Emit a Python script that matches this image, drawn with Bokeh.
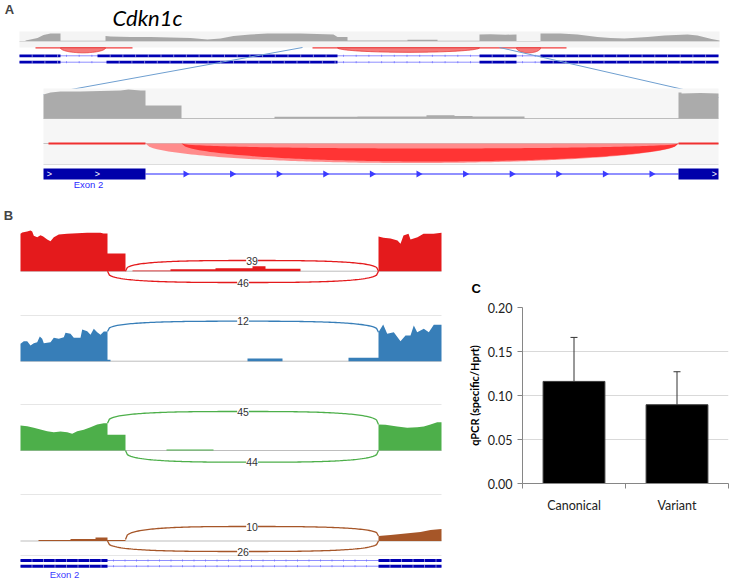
import numpy as np
from bokeh.plotting import figure
from bokeh.models import (Range1d, Label, LabelSet, ColumnDataSource, FixedTicker,
                          Whisker, TeeHead, NumeralTickFormatter, Title)
from bokeh.layouts import column, row
from bokeh.embed import file_html
from bokeh.resources import INLINE
from bokeh.core.properties import value

# ======================= DATA =======================
# ---- Panel A: overview of the Cdkn1c locus (track position, relative read depth)
ov_pos = [25, 30, 37, 43, 50, 58, 60, 60, 105,
          105, 110, 130, 150, 170, 190, 207, 220, 233, 250, 267, 300, 333, 337, 347,
          347, 407, 407, 437, 437, 479,
          479, 490, 505, 516, 516, 540,
          540, 560, 577, 597, 610, 624, 647, 664, 687, 697, 711, 719]
ov_depth = [0.5, 1.5, 3, 6, 7.5, 7.5, 7.5, 0.3, 0.3,
            5, 4.5, 4, 4, 3.5, 3, 1.5, 2.5, 5, 6.5, 7.5, 7.5, 6.5, 4, 4,
            0.5, 0.5, 1.2, 1.2, 0.3, 0.3,
            6.5, 6.8, 6.3, 6.5, 0, 0,
            7.5, 7.5, 6.5, 4, 3, 2.5, 4, 5.5, 6.5, 5.5, 2, 0.5]
ov_junc_start = [60, 337, 516]
ov_junc_end = [105, 479, 540]
ov_junc_depth = [5.0, 4.5, 5.0]
ov_jline_start = [35, 312]
ov_jline_end = [132, 566]
tx1_start = [19, 97, 479, 540]
tx1_end = [60, 337, 516, 718]
tx2_start = [19, 106, 479, 540]
tx2_end = [60, 337, 516, 718]
zoom_from = [302, 499]

# ---- Panel A: zoomed exon 2 / intron region
zm_pos = [43, 50, 60, 80, 100, 120, 128, 140, 145,
          145, 181, 181, 274, 274, 357, 357, 426, 426, 454, 454, 472, 472, 524, 524, 678,
          678, 681, 681, 700, 718]
zm_depth = [24, 26, 27, 27, 27.5, 28, 29, 28, 28,
            13, 13, 0, 0, 1.7, 1.7, 2, 2, 3.3, 3.3, 2.5, 2.5, 2, 2, 0, 0,
            26, 26, 25, 25.5, 25]
zm_junc_start = [145, 181]
zm_junc_end = [678, 678]
zm_exon_start = [43, 678]
zm_exon_end = [145, 718]

# ---- Panel B: sashimi coverage of four samples
red_pos = [20, 21.7, 26.7, 30, 31.7, 33.3, 36.7, 40, 42.7, 46.7, 50, 53.3, 58.3, 66.7, 76.7, 86.7, 100, 103, 107,
           107, 125, 125, 132, 132, 170, 170, 215, 215, 252, 252, 265, 265, 300, 300, 378,
           378, 383, 390, 397, 400, 403, 408, 410, 417, 423, 433, 441]
red_depth = [37.4, 38.7, 39.7, 40.7, 39.7, 35.4, 34, 36, 34.7, 31.7, 30, 34, 36.7, 37.4, 38, 38.4, 38.4, 37.7, 37.7,
             17.7, 17.7, 0, 0, 0.7, 0.7, 2, 2, 3, 3, 5, 5, 2.5, 2.5, 0, 0,
             34.7, 33.4, 32.7, 30.7, 27.4, 35.7, 37.4, 31.7, 34, 37.4, 37.4, 38.4]
blue_pos = [20, 23.3, 26.7, 30, 33.3, 36.7, 39.3, 41.7, 43.3, 50, 53.3, 58.3, 63.3, 65, 70, 73.3, 80, 81.7,
            86.7, 90, 93.3, 96.7, 100, 103.3, 107,
            107, 110, 110, 247, 247, 282, 282, 348, 348, 378,
            378, 382.7, 386.7, 393.3, 400, 405, 410, 413.3, 416.7, 423.3, 428.3, 433.3, 441]
blue_depth = [17.4, 20, 20, 15.7, 18, 19, 24.7, 22.4, 18, 19, 23.4, 22.4, 24, 28.4, 27.4, 23.4, 23.4, 31.7,
              30, 26.4, 32.4, 29, 26.4, 29.7, 29.7,
              1.5, 1.5, 0, 0, 2.7, 2.7, 0, 0, 3.4, 3.4,
              29, 36.7, 27.4, 29, 20, 25.7, 25.7, 35.7, 29, 32.4, 29, 36.4, 36.4]
green_pos = [20, 26.7, 33.3, 40, 46.7, 53.3, 60, 66.7, 71.7, 76.7, 83.3, 90, 96.7, 103.3, 107,
             107, 125, 125, 166, 166, 213, 213, 378,
             378, 385, 396.7, 406.7, 416.7, 423.3, 430, 436.7, 441]
green_depth = [25, 24.3, 22.7, 21, 19.3, 18.3, 19, 18.3, 16.7, 19.3, 20.7, 23.3, 26, 27.3, 27.3,
               15.7, 15.7, 0, 0, 1, 1, 0, 0,
               26, 25.7, 24, 22.7, 23.3, 24, 26, 28.3, 28.3]
brown_pos = [20, 38, 38, 70, 70, 95, 95, 107, 107, 125, 125, 378,
             378, 390, 400, 410, 420, 430, 441]
brown_depth = [0, 0, 1, 1, 2, 2, 3.5, 3.5, 1, 1, 0, 0,
               5, 6, 7, 8, 9, 11, 12]

junc_sample = [0, 0, 1, 2, 2, 3, 3]
junc_start = [125, 107, 107, 107, 125, 125, 107]
junc_end = [378, 378, 378, 378, 378, 378, 378]
junc_reads = [39, 46, 12, 45, 44, 10, 26]
junc_above = [True, False, True, True, False, True, False]
junc_anchor0 = [0, 0, 29.7, 27.3, 0, 1.5, 0]
junc_anchor1 = [0, 0, 29.0, 26.0, 0, 5.0, 0]
b_exon_start = [20, 378]
b_exon_end = [107, 441]

# ---- Panel C: qPCR
qpcr_cat = ["Canonical", "Variant"]
qpcr_mean = [0.116, 0.0895]
qpcr_err = [0.050, 0.0375]

# ======================= STYLE / LAYOUT =======================
SAMPLE_COLORS = ["#e41a1c", "#377eb8", "#4daf4a", "#a65628"]
ARC_HEIGHT = [10.7, 11.3, 40.0, 39.0, 11.7, 14.5, 10.5]
GENE_DARK = "#0000b4"
GENE_LIGHT = "#8f8fff"


def superellipse(n, num=140):
    f = np.linspace(0, 1, num)
    s = np.clip(1 - np.abs(2 * f - 1) ** n, 0, 1) ** (1.0 / n)
    return f, s


def blank(p):
    p.grid.visible = False
    p.outline_line_color = None
    p.background_fill_color = "white"
    p.border_fill_color = "white"
    p.frame_align = False


def gene_row(p, y, starts, ends, half=1.4, step=12.7):
    p.segment(x0=starts[0], x1=ends[-1], y0=y, y1=y, line_color=GENE_LIGHT, line_width=1)
    tx = []
    for e, s in zip(ends[:-1], starts[1:]):
        for t in np.arange(e + 6, s - 3, step):
            tx.append(t)
    if tx:
        p.segment(x0=tx, x1=tx, y0=y - 1.0, y1=y + 1.0, line_color="#7070ff", line_width=0.8)
    p.quad(left=starts, right=ends, top=y - half, bottom=y + half, fill_color=GENE_DARK, line_color=None)
    wx = []
    for s, e in zip(starts, ends):
        wx.extend(list(np.arange(s + step, e - 2, step)))
    if wx:
        p.segment(x0=wx, x1=wx, y0=y - half, y1=y + half, line_color="white", line_alpha=0.6, line_width=0.8)


# ======================= PANEL A =======================
pA = figure(width=729, height=200, x_range=Range1d(0, 729), y_range=Range1d(200, 0),
            toolbar_location=None, output_backend="svg", min_border=0, title=None,
            x_axis_location=None, y_axis_location=None)
blank(pA)

OV_X0, OV_X1, OV_BASE, OV_JY = 19, 719, 40.5, 47.3
pA.quad(left=OV_X0, right=OV_X1, top=31, bottom=47, fill_color="#f4f4f4", line_color=None)
pA.segment(x0=OV_X0, x1=OV_X1, y0=41, y1=41, line_color="#d9d9d9", line_width=1)
pA.varea(x=ov_pos, y1=np.full(len(ov_pos), OV_BASE), y2=OV_BASE - np.array(ov_depth),
         fill_color="#a8a8a8")

f2, s2 = superellipse(2)
pA.segment(x0=ov_jline_start, x1=ov_jline_end, y0=OV_JY, y1=OV_JY, line_color="#f03c3c", line_width=1.3)
axs, ays = [], []
for a, b, d in zip(ov_junc_start, ov_junc_end, ov_junc_depth):
    axs.append(list(a + (b - a) * f2))
    ays.append(list(OV_JY + d * s2))
pA.patches(axs, ays, fill_color="#f47a7a", line_color="#e63232", line_width=0.8)

gene_row(pA, 55.3, tx1_start, tx1_end)
gene_row(pA, 61.7, tx2_start, tx2_end)

# zoom connector lines
ZM_X0, ZM_X1 = 43, 718
pA.segment(x0=zoom_from, y0=[47, 47], x1=[ZM_X0, ZM_X1], y1=[94, 97],
           line_color="#6f9fd0", line_width=1)

# zoom detail tracks
ZM_BASE, ZM_JY, ZM_GY = 118, 143, 173.5
pA.quad(left=ZM_X0, right=ZM_X1, top=88, bottom=164, fill_color="#f6f6f6", line_color=None)
pA.segment(x0=[ZM_X0] * 3, x1=[ZM_X1] * 3, y0=[118, 143, 164], y1=[118, 143, 164],
           line_color=["#bdbdbd", "#c4c4c4", "#dddddd"], line_width=1)
pA.varea(x=zm_pos, y1=np.full(len(zm_pos), ZM_BASE), y2=ZM_BASE - np.array(zm_depth),
         fill_color="#ababab")

pA.segment(x0=[48, 678], x1=[145, 718], y0=ZM_JY, y1=ZM_JY, line_color="#f03030", line_width=1.8)
a, b = zm_junc_start[0], zm_junc_end[0]
lx = a + (b - a) * f2
pA.patch(list(lx), list(ZM_JY + 19.5 * s2), fill_color="#ff8c8c", line_color=None)
a, b = zm_junc_start[1], zm_junc_end[1]
dx = a + (b - a) * f2
lower = ZM_JY + 18 * s2
upper = ZM_JY + 5 * s2
pA.patch(list(np.concatenate([dx, dx[::-1]])), list(np.concatenate([lower, upper[::-1]])),
         fill_color="#ff3434", line_color=None)

pA.segment(x0=zm_exon_end[0], x1=zm_exon_start[1], y0=ZM_GY, y1=ZM_GY, line_color="#6b6bff", line_width=1.5)
pA.quad(left=zm_exon_start, right=zm_exon_end, top=168, bottom=179, fill_color="#0000aa", line_color=None)
chev = np.arange(zm_exon_end[0] + 40, zm_exon_start[1] - 20, 46.6)
pA.scatter(chev, np.full(len(chev), ZM_GY), marker="triangle", angle=-np.pi / 2, size=7,
           fill_color="#3b3bff", line_color=None)
pA.text(x=[49, 97, 714], y=[ZM_GY] * 3, text=[">"] * 3, text_color="white",
        text_font=value("Liberation Sans"), text_font_size="9px", text_align="center",
        text_baseline="middle")

pA.add_layout(Label(x=88, y=183.5, text="Exon 2", text_color="#2a2aff", text_font="Liberation Sans",
                    text_font_size="9.5px", text_align="center", text_baseline="middle"))
pA.add_layout(Label(x=9, y=9, text="A", text_font="Liberation Sans", text_font_style="bold",
                    text_font_size="13px", text_align="center", text_baseline="middle"))
pA.add_layout(Label(x=112, y=17, text="Cdkn1c", text_font="Lato", text_font_style="italic",
                    text_font_size="22px", text_color="black", text_align="left", text_baseline="middle"))

# ======================= PANEL B =======================
pB = figure(width=460, height=379, x_range=Range1d(0, 460), y_range=Range1d(579, 200),
            toolbar_location=None, output_backend="svg", min_border=0, title=None,
            x_axis_location=None, y_axis_location=None)
blank(pB)

B_X0, B_X1 = 20, 441
B_BASE = [270.7, 360.7, 450.0, 540.5]
B_SEP = [315, 404, 494, 555]
pB.segment(x0=[B_X0] * 4, x1=[B_X1] * 4, y0=B_SEP, y1=B_SEP, line_color="#e6e6e6", line_width=1)
pB.segment(x0=[B_X0] * 4, x1=[B_X1] * 4, y0=B_BASE, y1=B_BASE, line_color="#bdbdbd", line_width=1)

profiles = [(red_pos, red_depth), (blue_pos, blue_depth), (green_pos, green_depth), (brown_pos, brown_depth)]
for (pos, dep), base, col in zip(profiles, B_BASE, SAMPLE_COLORS):
    pB.varea(x=pos, y1=np.full(len(pos), base), y2=base - np.array(dep), fill_color=col)

f3, s3 = superellipse(3.0)
arc_x, arc_y, arc_c = [], [], []
lab_x, lab_y, lab_t = [], [], []
for i in range(len(junc_reads)):
    base = B_BASE[junc_sample[i]]
    x0, x1 = junc_start[i], junc_end[i]
    xs = x0 + (x1 - x0) * f3
    H = ARC_HEIGHT[i]
    if junc_above[i]:
        yl = base - (junc_anchor0[i] + (junc_anchor1[i] - junc_anchor0[i]) * f3)
        peak = base - H
        ys = yl + (peak - yl) * s3
    else:
        peak = base + H
        ys = base + H * s3
    arc_x.append(list(xs))
    arc_y.append(list(ys))
    arc_c.append(SAMPLE_COLORS[junc_sample[i]])
    lab_x.append((x0 + x1) / 2)
    lab_y.append(peak)
    lab_t.append(str(junc_reads[i]))
pB.multi_line(arc_x, arc_y, line_color=arc_c, line_width=1.3)
lsrc = ColumnDataSource(dict(x=lab_x, y=lab_y, t=lab_t))
pB.add_layout(LabelSet(x="x", y="y", text="t", source=lsrc, text_font=value("Liberation Sans"),
                       text_font_size="10.5px", text_color="#333333", text_align="center",
                       text_baseline="middle", background_fill_color="white"))

gene_row(pB, 560.0, b_exon_start, b_exon_end, half=1.5, step=11.5)
gene_row(pB, 565.7, b_exon_start, b_exon_end, half=1.5, step=11.5)
pB.add_layout(Label(x=64, y=573.5, text="Exon 2", text_color="#3a3aff", text_font="Liberation Sans",
                    text_font_size="9.5px", text_align="center", text_baseline="middle"))
pB.add_layout(Label(x=8, y=215, text="B", text_font="Liberation Sans", text_font_style="bold",
                    text_font_size="13px", text_align="center", text_baseline="middle"))

# ======================= PANEL C =======================
pC = figure(width=269, height=379, x_range=Range1d(0, 2), y_range=Range1d(0, 0.2),
            toolbar_location=None, output_backend="svg",
            min_border_left=62, min_border_right=1, min_border_top=107, min_border_bottom=96)
pC.frame_align = False
pC.title = Title(text="C", align="left", offset=-51, standoff=24, text_font="Liberation Sans",
                 text_font_style="bold", text_font_size="13px", text_color="black")
pC.outline_line_color = None
pC.xgrid.visible = False
pC.ygrid.grid_line_color = "#d9d9d9"
xc = [0.5 + i for i in range(len(qpcr_cat))]
pC.vbar(x=xc, top=qpcr_mean, width=0.6, fill_color="black", line_color="#3a3a3a")
wsrc = ColumnDataSource(dict(x=xc, lower=qpcr_mean,
                             upper=[m + e for m, e in zip(qpcr_mean, qpcr_err)]))
pC.add_layout(Whisker(source=wsrc, base="x", lower="lower", upper="upper", line_color="#333333",
                      line_width=1, lower_head=None,
                      upper_head=TeeHead(size=7, line_color="#333333", line_width=1)))

ya = pC.yaxis[0]
ya.ticker = FixedTicker(ticks=[0, 0.05, 0.10, 0.15, 0.20])
ya.formatter = NumeralTickFormatter(format="0.00")
ya.axis_line_color = "#868686"
ya.major_tick_line_color = "#868686"
ya.major_tick_out = 5
ya.major_tick_in = 0
ya.minor_tick_line_color = None
ya.major_label_text_font = "Lato"
ya.major_label_text_font_size = "12.5px"
ya.major_label_text_color = "#222222"
ya.axis_label = "qPCR (specific/Hprt)"
ya.axis_label_text_font = "Lato"
ya.axis_label_text_font_style = "bold"
ya.axis_label_text_font_size = "11px"
ya.axis_label_text_color = "black"
ya.axis_label_standoff = 4

xa = pC.xaxis[0]
xa.ticker = FixedTicker(ticks=xc, minor_ticks=[0, 1, 2])
xa.major_label_overrides = {x: c for x, c in zip(xc, qpcr_cat)}
xa.axis_line_color = "#868686"
xa.major_tick_line_color = None
xa.major_tick_out = 0
xa.minor_tick_line_color = "#868686"
xa.minor_tick_out = 5
xa.minor_tick_in = 0
xa.major_label_standoff = 9
xa.major_label_text_font = "Lato"
xa.major_label_text_font_size = "12.5px"
xa.major_label_text_color = "#222222"

layout = column(pA, row(pB, pC))
open("out.html", "w").write(file_html(layout, INLINE, "Cdkn1c"))
